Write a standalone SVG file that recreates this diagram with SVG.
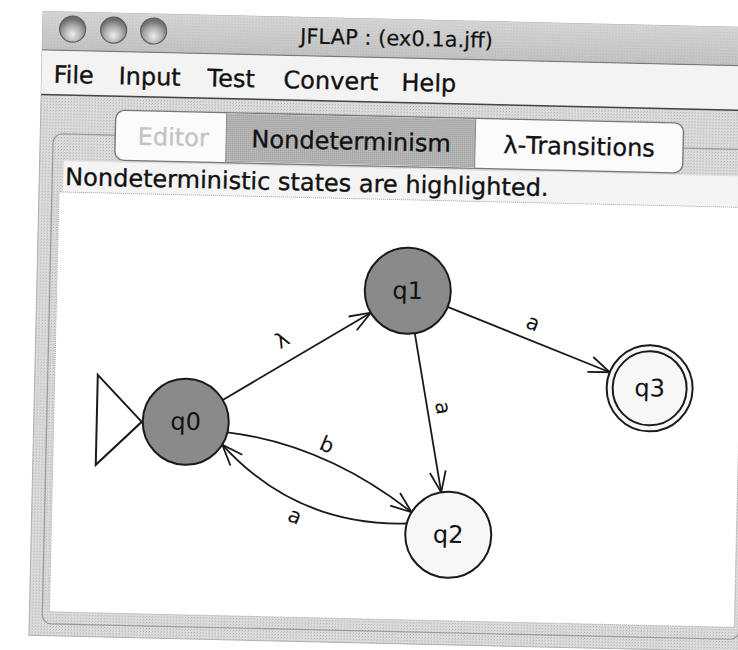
<svg xmlns="http://www.w3.org/2000/svg" width="738" height="650" viewBox="0 0 738 650">
  <defs>
    <linearGradient id="titleGrad" x1="0" y1="0" x2="0" y2="1">
      <stop offset="0" stop-color="#d2d2d2"/>
      <stop offset="1" stop-color="#b6b6b6"/>
    </linearGradient>
    <radialGradient id="btnGrad" cx="0.5" cy="0.7" r="0.6">
      <stop offset="0" stop-color="#eeeeee"/>
      <stop offset="0.6" stop-color="#a8a8a8"/>
      <stop offset="1" stop-color="#6e6e6e"/>
    </radialGradient>
    <!-- fine halftone texture for the grey window chrome -->
    <pattern id="dither" width="3" height="3" patternUnits="userSpaceOnUse">
      <rect width="3" height="3" fill="#dedede"/>
      <rect width="1" height="1" fill="#a9a9a9"/>
      <rect x="2" y="1" width="1" height="1" fill="#c2c2c2"/>
    </pattern>
    <pattern id="ditherDark" width="2" height="2" patternUnits="userSpaceOnUse">
      <rect width="2" height="2" fill="#b0b0b0"/>
      <rect width="1" height="1" fill="#9c9c9c"/>
      <rect x="1" y="1" width="1" height="1" fill="#c4c4c4"/>
    </pattern>
    <marker id="arrow" viewBox="-24 -12 26 24" refX="0" refY="0" markerWidth="26" markerHeight="24" markerUnits="userSpaceOnUse" orient="auto" overflow="visible">
      <path d="M -21 -8 L 0 0 L -21 8" fill="none" stroke="#1a1a1a" stroke-width="1.8"/>
    </marker>
    <style>
      .ui { font-family: "DejaVu Sans", "Liberation Sans", sans-serif; fill: #111; stroke: #111; stroke-width: 0.35; }
      .state { stroke: #1a1a1a; stroke-width: 2; }
      .nondet { fill: #8a8a8a; }
      .plain { fill: #f7f7f7; }
      .slabel { font-family: "DejaVu Sans", "Liberation Sans", sans-serif; font-size: 24px; fill: #111; text-anchor: middle; }
      .edge { fill: none; stroke: #1a1a1a; stroke-width: 1.8; marker-end: url(#arrow); }
      .elabel { font-family: "DejaVu Sans", "Liberation Sans", sans-serif; font-size: 21px; fill: #111; text-anchor: middle; dominant-baseline: central; }
    </style>
  </defs>

  <rect x="0" y="0" width="738" height="650" fill="#ffffff"/>

  <g transform="rotate(1.3 370 325)">
    <!-- window frame -->
    <rect x="36" y="19" width="712" height="624" fill="url(#dither)" stroke="#b0b0b0" stroke-width="1"/>
    <!-- title bar -->
    <rect x="36" y="19" width="712" height="38" fill="url(#titleGrad)"/>
    <rect x="36" y="19" width="712" height="38" fill="url(#dither)" opacity="0.35"/>
    <line x1="36" y1="57.5" x2="748" y2="57.5" stroke="#7a7a7a" stroke-width="1.5"/>
    <circle cx="66" cy="36" r="13" fill="url(#btnGrad)" stroke="#5e5e5e" stroke-width="1.2"/>
    <circle cx="107" cy="36" r="13" fill="url(#btnGrad)" stroke="#5e5e5e" stroke-width="1.2"/>
    <circle cx="147" cy="36" r="13" fill="url(#btnGrad)" stroke="#5e5e5e" stroke-width="1.2"/>
    <text class="ui" x="390" y="45" font-size="21" text-anchor="middle" style="stroke-width:0.2">JFLAP : (ex0.1a.jff)</text>

    <!-- menu bar -->
    <rect x="36" y="58" width="712" height="44" fill="#f3f3f3"/>
    <line x1="36" y1="102" x2="748" y2="102" stroke="#444" stroke-width="1.5"/>
    <g class="ui" font-size="24">
      <text x="48" y="90">File</text>
      <text x="113" y="90">Input</text>
      <text x="202" y="90">Test</text>
      <text x="278" y="90">Convert</text>
      <text x="396" y="90">Help</text>
    </g>

    <!-- tabbed pane -->
    <rect x="49" y="141" width="697" height="490" rx="9" fill="url(#dither)" stroke="#999" stroke-width="1.2"/>

    <!-- tab selector -->
    <g id="tabs">
      <rect x="111" y="116" width="568" height="50" rx="9" fill="#fbfbfb" stroke="#777" stroke-width="1.4"/>
      <rect x="222" y="117" width="249" height="48" fill="url(#ditherDark)"/>
      <line x1="222" y1="116" x2="222" y2="166" stroke="#888" stroke-width="1"/>
      <line x1="471" y1="116" x2="471" y2="166" stroke="#888" stroke-width="1"/>
      <text class="ui" x="169" y="150" font-size="24" text-anchor="middle" style="fill:#c4c4c4;stroke:#c4c4c4">Editor</text>
      <text class="ui" x="347" y="150" font-size="24" text-anchor="middle">Nondeterminism</text>
      <text class="ui" x="575" y="150" font-size="24" text-anchor="middle">λ-Transitions</text>
    </g>

    <!-- status line and drawing canvas -->
    <rect x="60" y="168" width="680" height="31" fill="#f4f4f4"/>
    <text class="ui" x="62" y="192" font-size="24">Nondeterministic states are highlighted.</text>
    <rect x="56" y="199" width="685" height="420" fill="#ffffff" stroke="#a8a8a8" stroke-width="1" stroke-dasharray="1 1"/>

    <!-- transitions -->
    <g id="connectors">
      <line class="edge" x1="224.5" y1="403.3" x2="370.5" y2="312.7"/>
      <line class="edge" x1="447.2" y1="305.2" x2="610.8" y2="366.8"/>
      <line class="edge" x1="415.0" y1="332.3" x2="445.0" y2="490.7"/>
      <path class="edge" d="M 229.9 435.5 Q 327.7 445.5 415.9 511.3"/>
      <path class="edge" d="M 411.2 522.6 Q 300.6 527.7 225.0 447.9"/>
      <text class="elabel" transform="translate(282.3 342) rotate(-31.8)">λ</text>
      <text class="elabel" transform="translate(533 319.3) rotate(20.7)">a</text>
      <text class="elabel" transform="translate(444.9 406.3) rotate(79.3)">a</text>
      <text class="elabel" transform="translate(329.7 446) rotate(22)">b</text>
      <text class="elabel" transform="translate(299.3 517.7) rotate(22)">a</text>
    </g>

    <!-- states -->
    <g id="q0">
      <polygon points="99,381 144,427 99,471" fill="#ffffff" stroke="#1a1a1a" stroke-width="2"/>
      <circle class="state nondet" cx="188" cy="426" r="43"/>
      <text class="slabel" x="188" y="434">q0</text>
    </g>
    <g id="q1">
      <circle class="state nondet" cx="407" cy="290" r="43"/>
      <text class="slabel" x="407" y="298">q1</text>
    </g>
    <g id="q2">
      <circle class="state plain" cx="453" cy="533" r="43"/>
      <text class="slabel" x="453" y="541">q2</text>
    </g>
    <g id="q3">
      <circle class="state plain" cx="651" cy="382" r="43"/>
      <circle cx="651" cy="382" r="37" fill="none" stroke="#1a1a1a" stroke-width="2"/>
      <text class="slabel" x="651" y="390">q3</text>
    </g>
  </g>
</svg>
